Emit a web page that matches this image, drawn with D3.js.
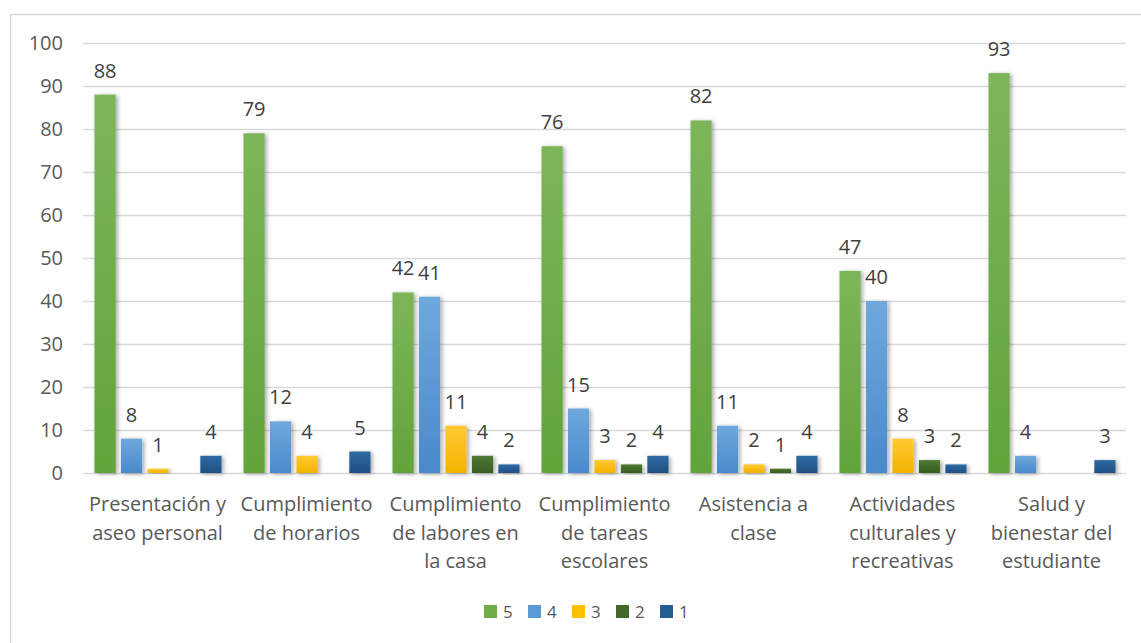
<!DOCTYPE html>
<html>
<head>
<meta charset="utf-8">
<script src="https://cdn.jsdelivr.net/npm/d3@7"></script>
<style>
  body { margin: 0; background: #fff; }
  svg text { font-family: "Open Sans", sans-serif; }
</style>
</head>
<body>
<svg id="chart" width="1141" height="643"></svg>
<script>
"use strict";
// categories (x axis, line-broken as in the original)
var categories = [
  ["Presentación y", "aseo personal"],
  ["Cumplimiento", "de horarios"],
  ["Cumplimiento", "de labores en", "la casa"],
  ["Cumplimiento", "de tareas", "escolares"],
  ["Asistencia a", "clase"],
  ["Actividades", "culturales y", "recreativas"],
  ["Salud y", "bienestar del", "estudiante"]
];
var seriesNames = ["5", "4", "3", "2", "1"];
var values5 = [88, 79, 42, 76, 82, 47, 93];
var values4 = [8, 12, 41, 15, 11, 40, 4];
var values3 = [1, 4, 11, 3, 2, 8, null];
var values2 = [null, null, 4, 2, 1, 3, null];
var values1 = [4, 5, 2, 4, 4, 2, 3];
var yTicks = [0, 10, 20, 30, 40, 50, 60, 70, 80, 90, 100];

var seriesValues = [values5, values4, values3, values2, values1];
var colors = [
  ["#7db65a", "#62a33a"],
  ["#6ea8dd", "#4a8acb"],
  ["#ffca33", "#f2b300"],
  ["#4e7a33", "#385c22"],
  ["#2f6ba3", "#1f4f82"]
];
var legendColors = ["#70ad47", "#5b9bd5", "#ffc000", "#43682b", "#255e91"];

var svg = d3.select('#chart');
var defs = svg.append('defs');

colors.forEach(function(c, i) {
  var g = defs.append('linearGradient').attr('id', 'grad' + i)
    .attr('x1', 0).attr('y1', 0).attr('x2', 0).attr('y2', 1);
  g.append('stop').attr('offset', '0%').attr('stop-color', c[0]);
  g.append('stop').attr('offset', '100%').attr('stop-color', c[1]);
});

var shadow = defs.append('filter').attr('id', 'shadow')
  .attr('x', '-30%').attr('y', '-10%').attr('width', '180%').attr('height', '130%');
shadow.append('feDropShadow').attr('dx', 2).attr('dy', 1).attr('stdDeviation', 2)
  .attr('flood-color', '#000').attr('flood-opacity', 0.35);

// chart border
svg.append('rect').attr('x', 10.5).attr('y', 14.5).attr('width', 1160).attr('height', 660)
  .attr('fill', 'none').attr('stroke', '#d9d9d9').attr('stroke-width', 1.5);

var x = d3.scaleBand().domain(d3.range(categories.length)).range([83, 1126]);
var y = d3.scaleLinear().domain([0, 100]).range([473, 43]);

// gridlines
svg.append('g').selectAll('line').data(yTicks).enter().append('line')
  .attr('x1', 83).attr('x2', 1126)
  .attr('y1', function(d) { return Math.round(y(d)) + 0.5; })
  .attr('y2', function(d) { return Math.round(y(d)) + 0.5; })
  .attr('stroke', '#d9d9d9').attr('stroke-width', 1.5);

// y axis labels
svg.append('g').selectAll('text').data(yTicks).enter().append('text')
  .attr('x', 63).attr('y', function(d) { return y(d) + 7; })
  .attr('text-anchor', 'end').attr('font-size', 20).attr('fill', '#595959')
  .text(function(d) { return d; });

var groups = svg.append('g').selectAll('g.cat').data(categories).enter().append('g')
  .attr('class', 'cat');

groups.each(function(cat, ci) {
  var x0 = x(ci);
  var inner = d3.scaleBand().domain(d3.range(seriesNames.length))
    .range([x0 + 11.5, x0 + 138.5]).paddingInner(0.2).paddingOuter(0);
  var g = d3.select(this);
  var data = seriesValues.map(function(vals, si) { return { s: si, v: vals[ci] }; })
    .filter(function(d) { return d.v !== null; });

  g.selectAll('rect').data(data).enter().append('rect')
    .attr('x', function(d) { return inner(d.s); })
    .attr('width', inner.bandwidth())
    .attr('y', function(d) { return y(d.v); })
    .attr('height', function(d) { return y(0) - y(d.v); })
    .attr('fill', function(d) { return 'url(#grad' + d.s + ')'; })
    .attr('filter', 'url(#shadow)');

  g.selectAll('text.lbl').data(data).enter().append('text').attr('class', 'lbl')
    .attr('x', function(d) { return inner(d.s) + inner.bandwidth() / 2; })
    .attr('y', function(d) { return y(d.v) - 17; })
    .attr('text-anchor', 'middle').attr('font-size', 20).attr('fill', '#404040')
    .text(function(d) { return d.v; });

  var t = g.append('text').attr('text-anchor', 'middle').attr('font-size', 20)
    .attr('fill', '#595959');
  cat.forEach(function(line, li) {
    t.append('tspan').attr('x', x0 + x.bandwidth() / 2).attr('y', 511 + li * 28.5).text(line);
  });
});

// legend
var legend = svg.append('g').selectAll('g').data(seriesNames).enter().append('g')
  .attr('transform', function(d, i) { return 'translate(' + (484 + i * 44) + ',605)'; });
legend.append('rect').attr('width', 13).attr('height', 13)
  .attr('fill', function(d, i) { return legendColors[i]; });
legend.append('text').attr('x', 19).attr('y', 12.5).attr('font-size', 17).attr('fill', '#595959')
  .text(function(d) { return d; });
</script>
</body>
</html>
